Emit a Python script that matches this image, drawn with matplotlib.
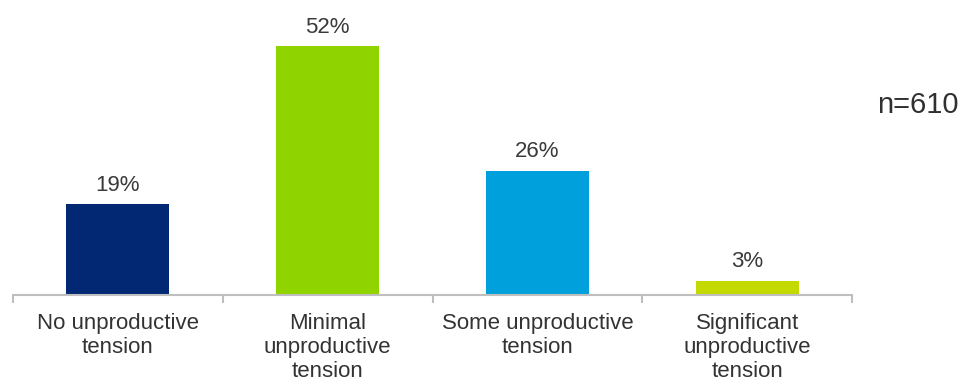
import numpy as np
import matplotlib.pyplot as plt

categories = ["No unproductive\ntension", "Minimal\nunproductive\ntension",
              "Some unproductive\ntension", "Significant\nunproductive\ntension"]
values = [19, 52, 26, 3]
colors = ["#022873", "#8fd400", "#00a0dc", "#c4d900"]

plt.rcParams['font.family'] = ['Liberation Sans', 'DejaVu Sans']

fig = plt.figure(figsize=(9.67, 3.83), dpi=100)
ax = fig.add_axes([13 / 967, 88 / 383, 839 / 967, 295 / 383])

x = np.arange(len(categories))
bars = ax.bar(x, values, width=0.49, color=colors)

# value labels above bars
for xi, v in zip(x, values):
    ax.annotate(f"{v}%", (xi, v), xytext=(0, 6), textcoords='offset points',
                ha='center', va='bottom', fontsize=16, color='#3a3a3a')

ax.set_xlim(-0.5, len(categories) - 0.5)
ax.set_ylim(0, 52 * 295 / 249)

for s in ['top', 'right', 'left']:
    ax.spines[s].set_visible(False)
ax.spines['bottom'].set_color('#bfbfbf')
ax.spines['bottom'].set_linewidth(1.5)
ax.set_yticks([])

ax.set_xticks(x)
ax.set_xticklabels(categories, fontsize=16, color='#333333', linespacing=1.2)
ax.tick_params(axis='x', which='major', length=0, pad=13)
ax.set_xticks(np.arange(-0.5, len(categories)), minor=True)
ax.tick_params(axis='x', which='minor', length=6, width=1.5, color='#bfbfbf')

fig.text(918 / 967, 1 - 105 / 383, "n=610", fontsize=21, color='#303030',
         ha='center', va='center')

fig.savefig("out.png", dpi=100)
